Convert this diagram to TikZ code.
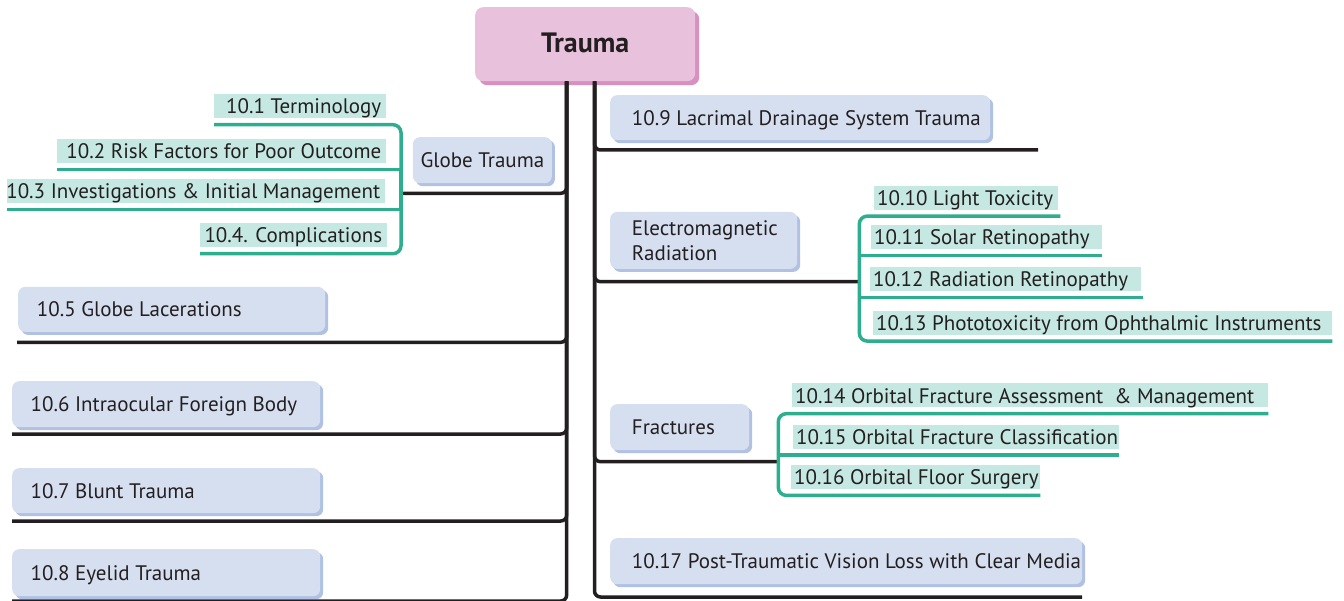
\documentclass[tikz,border=0pt]{standalone}
\usepackage{fontspec}
\setmainfont{PT Sans}
\usetikzlibrary{shadows,calc}
\definecolor{ink}{HTML}{231F20}
\definecolor{pinkfill}{HTML}{E8C1DC}
\definecolor{pinkshade}{HTML}{D98FC0}
\definecolor{bluefill}{HTML}{D6DFF0}
\definecolor{blueshade}{HTML}{B0C1E3}
\definecolor{labfill}{HTML}{C6E8E2}
\definecolor{glinecol}{HTML}{2DAE8E}
\newcommand\lblfont{\fontsize{21}{25}\selectfont}
\newcommand\mkl[2]{\makebox[#1][l]{#2}}
\newcommand\mkr[2]{\makebox[#1][r]{#2}}
\tikzset{
  x=1pt, y=-1pt,
  bbox/.style={fill=bluefill, rounded corners=7pt,
    drop shadow={shadow xshift=3pt, shadow yshift=-3pt, fill=blueshade, opacity=1},
    inner ysep=0pt, text=ink, font=\lblfont, anchor=north west},
  oneline/.style={text height=15pt, text depth=0pt},
  labl/.style={fill=labfill, inner ysep=0pt, inner xsep=5pt, text=ink, font=\lblfont,
    text height=15pt, text depth=0pt, anchor=north west, minimum height=24pt},
  labr/.style={fill=labfill, inner ysep=0pt, inner xsep=3pt, text=ink, font=\lblfont,
    text height=15pt, text depth=0pt, anchor=north west, minimum height=24pt},
  blk/.style={draw=ink, line width=3.5pt, rounded corners=6pt},
  grn/.style={draw=glinecol, line width=3.5pt, rounded corners=8pt},
}
\begin{document}
\begin{tikzpicture}
\useasboundingbox (0,0) rectangle (1344,601);

% root
\node[fill=pinkfill, rounded corners=8pt,
  drop shadow={shadow xshift=4pt, shadow yshift=-4pt, fill=pinkshade, opacity=1},
  minimum width=220pt, minimum height=74pt, anchor=north west, inner sep=0pt,
  font=\bfseries\fontsize{28}{32}\selectfont, text=ink, text height=20pt, text depth=4pt]
  (root) at (475,7) {Trauma};

% blue boxes
\node[bbox, oneline, inner xsep=7pt, minimum height=46pt] (globe) at (412.7,137) {\makebox[125pt][c]{Globe Trauma}};
\node[bbox, oneline, inner xsep=18.7pt, minimum height=45pt] (b5) at (18,286.7) {\mkl{269.6pt}{10.5 Globe Lacerations}};
\node[bbox, oneline, inner xsep=18.5pt, minimum height=46pt] (b6) at (12,381) {\mkl{271pt}{10.6 Intraocular Foreign Body}};
\node[bbox, oneline, inner xsep=18.5pt, minimum height=45pt] (b7) at (12,468) {\mkl{271pt}{10.7 Blunt Trauma}};
\node[bbox, oneline, inner xsep=18.5pt, minimum height=47pt] (b8) at (12,549) {\mkl{271pt}{10.8 Eyelid Trauma}};
\node[bbox, oneline, inner xsep=21.7pt, minimum height=45pt] (b9) at (610,95) {\mkl{336.6pt}{10.9 Lacrimal Drainage System Trauma}};
\node[bbox, align=left, text width=143.6pt, inner xsep=21.7pt, minimum height=57pt,
  execute at begin node={\setlength{\baselineskip}{25pt}}] (em) at (610,211.7) {Electromagnetic\\Radiation};
\node[bbox, oneline, inner xsep=21.7pt, minimum height=46pt] (fr) at (610,404) {\mkl{95.6pt}{Fractures}};
\node[bbox, oneline, inner xsep=21.7pt, minimum height=46pt] (b17) at (610,538) {\mkl{428.6pt}{10.17 Post-Traumatic Vision Loss with Clear Media}};

% green labels, left group
\node[labl] (l1) at (214,94.3) {\mkr{162pt}{10.1 Terminology}};
\node[labl] (l2) at (57,139) {\mkr{319pt}{10.2 Risk Factors for Poor Outcome}};
\node[labl] (l3) at (7,179.3) {\mkr{368pt}{10.3 Investigations \& Initial Management}};
\node[labl] (l4) at (200,223.3) {\mkr{177pt}{10.4. Complications}};

% green labels, electromagnetic group
\node[labr] (l10) at (874,185.7) {\mkl{178pt}{10.10 Light Toxicity}};
\node[labr] (l11) at (871,225) {\mkl{225pt}{10.11 Solar Retinopathy}};
\node[labr] (l12) at (870,267) {\mkl{265pt}{10.12 Radiation Retinopathy}};
\node[labr] (l13) at (873,310.7) {\mkl{453pt}{10.13 Phototoxicity from Ophthalmic Instruments}};

% green labels, fractures group
\node[labr] (l14) at (792,383.3) {\mkl{470pt}{10.14 Orbital Fracture Assessment\ \ \& Management}};
\node[labr] (l15) at (793,424.5) {\mkl{320pt}{10.15 Orbital Fracture Classification}};
\node[labr] (l16) at (791,465) {\mkl{243pt}{10.16 Orbital Floor Surgery}};

% junction and end coordinates
\coordinate (LT) at ($(root.south west)+(91.7,0)$);
\coordinate (RT) at ($(root.south west)+(119.5,0)$);
\coordinate (gj) at (401,193.3);
\coordinate (u5) at (17,342.3);
\coordinate (u6) at (12,434);
\coordinate (u7) at (12,521);
\coordinate (u8) at (12,601);
\coordinate (u9) at (1038,150);
\coordinate (ej) at (859.3,281.7);
\coordinate (fj) at (778.3,461.7);
\coordinate (u17) at (1082,597);

% black connectors
\draw[blk] (LT) |- (gj);
\draw[blk] (LT) |- (u5);
\draw[blk] (LT) |- (u6);
\draw[blk] (LT) |- (u7);
\draw[blk] (LT) |- (u8);
\draw[blk] (RT) |- (u9);
\draw[blk] (RT) |- (ej);
\draw[blk] (RT) |- (fj);
\draw[blk] (RT) |- (u17);

% green brackets
\draw[grn] ($(l1.south west)+(0,6)$) -| (gj) |- ($(l4.south west)+(0,6)$);
\draw[grn, sharp corners] (gj) |- ($(l2.south west)+(0,6)$);
\draw[grn, sharp corners] (gj) |- ($(l3.south west)+(0,6)$);

\draw[grn] ($(l10.south east)+(2,6)$) -| (ej) |- ($(l13.south east)+(0,6)$);
\draw[grn, sharp corners] (ej) |- ($(l11.south east)+(0,6)$);
\draw[grn, sharp corners] (ej) |- ($(l12.south east)+(2,6)$);

\draw[grn] ($(l14.south east)+(0,6)$) -| (fj) |- ($(l16.south east)+(0,6)$);
\draw[grn, sharp corners] (fj) |- ($(l15.south east)+(0,6)$);
\end{tikzpicture}
\end{document}
